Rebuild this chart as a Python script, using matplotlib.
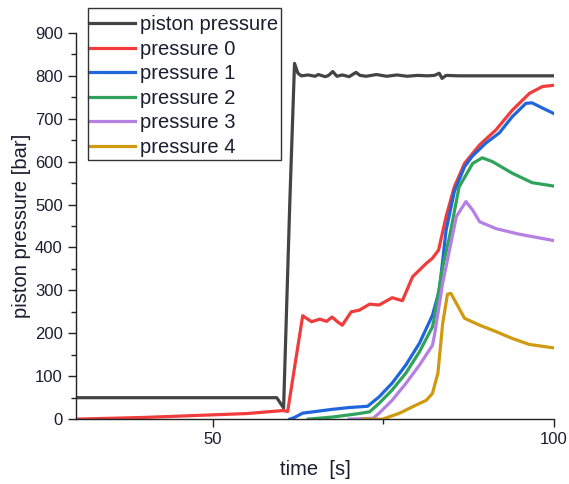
import matplotlib
matplotlib.use("Agg")
import matplotlib.pyplot as plt
from matplotlib.patches import Rectangle
from matplotlib.ticker import MultipleLocator

plt.rcParams["font.family"] = ["Liberation Sans", "DejaVu Sans"]

# ---------------------------------------------------------------------------
# Daten
# ---------------------------------------------------------------------------
t_piston = [30, 59.4, 60.4, 61.3, 62.0, 62.5, 63.0, 64.0, 65.0, 65.5, 66.5, 67.0,
            67.6, 68.2, 69.0, 70.0, 71.0, 71.6, 72.5, 74.0, 75.5, 77.0, 78.5,
            80.0, 81.5, 82.5, 83.2, 83.6, 84.2, 86.0, 90.0, 95.0, 100]
p_piston = [50, 50, 26, 500, 829, 806, 800, 802, 799, 803, 798, 801,
            810, 799, 802, 798, 808, 801, 799, 803, 799, 802, 799,
            801, 800, 801, 806, 794, 801, 800, 800, 800, 800]

t_p0 = [30, 40, 50, 55, 60.3, 61.0, 62.0, 63.2, 64.5, 65.7, 66.7, 67.5, 68.2,
        69.0, 70.3, 71.5, 73.0, 74.4, 76.3, 77.8, 79.3, 81.3, 82.2, 83.1,
        84.2, 85.4, 86.9, 89.1, 91.5, 93.9, 96.4, 98.3, 100]
p_p0 = [0, 4, 10, 13, 20, 18, 120, 241, 227, 233, 228, 238, 228,
        219, 250, 254, 268, 266, 283, 276, 332, 363, 375, 394,
        472, 541, 596, 639, 674, 720, 759, 775, 778]

t_p1 = [61.3, 62.0, 63.2, 64.7, 67.6, 70.0, 72.7, 74.4, 76.3, 78.3, 80.3,
        82.2, 83.2, 84.2, 85.4, 86.9, 88.0, 90.0, 92.0, 93.9, 95.9, 96.8,
        98.3, 100]
p_p1 = [0, 4, 14, 17, 23, 27, 30, 52, 84, 126, 177,
        242, 300, 440, 530, 588, 612, 643, 667, 705, 736, 737,
        725, 712]

t_p2 = [64.0, 67.6, 71.0, 73.0, 74.4, 76.3, 78.3, 80.3, 82.2, 82.5, 83.7,
        84.7, 86.1, 88.1, 89.5, 91.0, 93.9, 96.8, 100]
p_p2 = [0, 5, 12, 17, 37, 68, 107, 157, 215, 238, 355,
        425, 541, 596, 609, 600, 573, 551, 543]

t_p3 = [70.0, 73.5, 74.4, 76.3, 78.3, 80.3, 82.2, 82.5, 83.7, 84.7, 85.7,
        87.1, 88.1, 89.1, 91.5, 94.9, 100]
p_p3 = [0, 2, 14, 44, 83, 126, 172, 196, 317, 394, 472,
        507, 487, 460, 444, 431, 416]

t_p4 = [72.0, 74.9, 77.4, 79.3, 81.3, 82.2, 83.0, 83.7, 84.4, 84.9, 85.7,
        86.9, 89.1, 91.5, 93.9, 96.4, 100]
p_p4 = [0, 0, 14, 29, 44, 60, 107, 223, 291, 293, 270,
        235, 219, 204, 188, 174, 166]

series = [
    (t_piston, p_piston, "piston pressure", "#444444"),
    (t_p0, p_p0, "pressure 0", "#f03c3c"),
    (t_p1, p_p1, "pressure 1", "#1f66dc"),
    (t_p2, p_p2, "pressure 2", "#2fa35c"),
    (t_p3, p_p3, "pressure 3", "#b480e4"),
    (t_p4, p_p4, "pressure 4", "#d09a10"),
]

text_col = "#1c1c30"

fig = plt.figure(figsize=(5.69, 4.84), dpi=100)
ax = fig.add_axes([0.1336, 0.134, 0.840, 0.798])

# Zeichenreihenfolge: piston zuerst, dann Drücke darüber
for t, p, lab, col in series:
    ax.plot(t, p, color=col, lw=2.3, label=lab, solid_joinstyle="round")

ax.set_xlim(30, 100)
ax.set_ylim(0, 900)
ax.xaxis.set_major_locator(MultipleLocator(50))
ax.xaxis.set_minor_locator(MultipleLocator(25))
ax.yaxis.set_major_locator(MultipleLocator(100))
ax.yaxis.set_minor_locator(MultipleLocator(50))

for s in ["top", "right"]:
    ax.spines[s].set_visible(False)
for s in ["left", "bottom"]:
    ax.spines[s].set_linewidth(1.0)
    ax.spines[s].set_color("#222222")

ax.tick_params(which="major", length=6, width=1.0, labelsize=12,
               colors="#222222", labelcolor=text_col)
ax.tick_params(which="minor", length=3.5, width=1.0, colors="#222222")

ax.set_xlabel("time  [s]", fontsize=14.5, color=text_col, labelpad=9)
ax.set_ylabel("piston pressure [bar]", fontsize=14.5, color=text_col, labelpad=3)

# Legende ohne eigenen Rahmen; Rahmen separat (Handle liegt am linken Rand an)
leg = ax.legend(loc="upper left", bbox_to_anchor=(0.1565, 0.968),
                bbox_transform=fig.transFigure, fontsize=14.5, frameon=False,
                borderpad=0, labelspacing=0.27, handlelength=2.3,
                handletextpad=0.25, borderaxespad=0)
for txt in leg.get_texts():
    txt.set_color(text_col)

fig.add_artist(Rectangle((0.1547, 0.6694), 0.4938 - 0.1547, 0.9835 - 0.6694,
                         transform=fig.transFigure, fill=False,
                         edgecolor="#333333", lw=1.0))

fig.savefig("out.png", dpi=100)
